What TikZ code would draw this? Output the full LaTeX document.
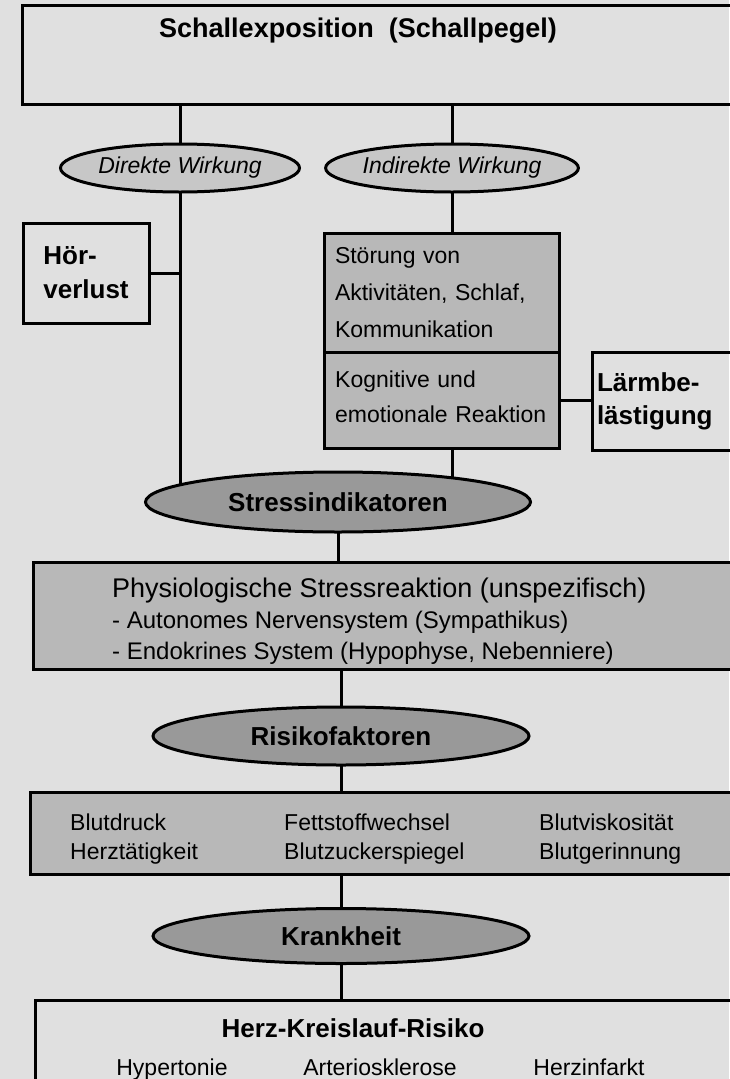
\documentclass[tikz,border=0pt]{standalone}
\usepackage{fontspec}
\setmainfont{Liberation Sans}
\usetikzlibrary{positioning,calc,shapes.geometric}
\definecolor{grundgrau}{gray}{0.88}
\definecolor{feldgrau}{gray}{0.72}
\definecolor{hellschraffur}{gray}{0.78}
\definecolor{dunkelschraffur}{gray}{0.60}
\pgfdeclarelayer{hintergrund}
\pgfdeclarelayer{linien}
\pgfsetlayers{hintergrund,linien,main}

\begin{document}
\begin{tikzpicture}[
  x=1pt,y=-1pt,
  font=\fontsize{23}{29}\selectfont,
  kasten/.style={draw=black,line width=3pt,inner sep=0pt,outer sep=0pt},
  grauKasten/.style={kasten,fill=feldgrau},
  fett/.style={font=\fontsize{26}{34}\selectfont\bfseries},
  liste/.style={anchor=west,align=left,inner xsep=0pt},
  wirkung/.style={ellipse,draw=black,line width=3pt,fill=hellschraffur,inner sep=0pt,
    outer sep=0pt,minimum height=48pt,font=\fontsize{23}{27}\selectfont\itshape},
  stufe/.style={ellipse,draw=black,line width=3pt,fill=dunkelschraffur,inner sep=0pt,
    outer sep=0pt,minimum width=380pt,fett},
  verbindung/.style={black,line width=3pt}
]
\useasboundingbox (0,0) rectangle (729,1079);
\begin{pgfonlayer}{hintergrund}
  \fill[grundgrau] (0,0) rectangle (729,1079);
\end{pgfonlayer}

% Quelle
\node[kasten,minimum width=718pt,minimum height=99pt] (schall) at (381,54.5) {};
\node[fett,font=\fontsize{27}{34}\selectfont\bfseries] (schalltitel) at (358,31)
  {Schallexposition\ \ (Schallpegel)};

\node[wirkung,minimum width=239pt] (direkt) at (180,168) {Direkte Wirkung};
\node[wirkung,minimum width=241pt] (indirekt) at (452,168) {Indirekte Wirkung};

% linker und rechter Zweig
\node[kasten,fett,align=left,minimum width=126pt,minimum height=100pt] (hoer) at (86,273)
  {Hör-\\verlust};
\node[grauKasten,anchor=north west,align=left,text width=213pt,inner xsep=11pt,
  minimum height=119pt,font=\fontsize{23}{37}\selectfont] (stoerung) at (324,233)
  {Störung von\\Aktivitäten, Schlaf,\\Kommunikation};
\node[grauKasten,anchor=north west,minimum width=235pt,minimum height=96pt] (kognitiv)
  at (stoerung.south west) {};
\node[anchor=base west,align=left,text width=213pt,inner xsep=0pt,
  font=\fontsize{23}{35}\selectfont] (kognitivtext) at (335,387)
  {Kognitive und\\emotionale Reaktion};
\node[kasten,fett,anchor=west,align=left,text width=140pt,inner xsep=5pt,
  minimum height=98pt,font=\fontsize{26}{33}\selectfont\bfseries] (laerm) at (592,401)
  {Lärmbe-\\lästigung};

\node[stufe,minimum width=385pt,minimum height=60pt] (stress) at (338,502) {Stressindikatoren};

\node[grauKasten,anchor=north west,minimum width=707pt,minimum height=107pt] (physio)
  at (33,562) {};
\node[liste,font=\fontsize{24}{31}\selectfont] (physiotext) at (112,621)
  {{\fontsize{27}{31}\selectfont Physiologische Stressreaktion (unspezifisch)}\\
   - Autonomes Nervensystem (Sympathikus)\\
   - Endokrines System (Hypophyse, Nebenniere)};

\node[stufe,minimum width=376pt,minimum height=58pt] (risiko) at (341,736) {Risikofaktoren};

\node[grauKasten,anchor=north west,minimum width=710pt,minimum height=82pt] (blut) at (30,792) {};
\node[liste] (blutA) at (70,839) {Blutdruck\\Herztätigkeit};
\node[liste] (blutB) at (284,839) {Fettstoffwechsel\\Blutzuckerspiegel};
\node[liste] (blutC) at (539,839) {Blutviskosität\\Blutgerinnung};

\node[stufe,minimum width=376pt,minimum height=55pt] (krank) at (341,936) {Krankheit};

\node[kasten,anchor=north west,minimum width=705pt,minimum height=100pt] (herz) at (35,1000) {};
\node[fett] (herztitel) at (353,1028) {Herz-Kreislauf-Risiko};
\node[anchor=base] (hyper) at (172,1075) {Hypertonie};
\node[anchor=base] (arterio) at (380,1075) {Arteriosklerose};
\node[anchor=base] (infarkt) at (589,1075) {Herzinfarkt};

% Verbindungen unter den Knoten
\begin{pgfonlayer}{linien}
  \draw[verbindung] (direkt.north) -- (direkt.north |- schall.south);
  \draw[verbindung] (indirekt.north) -- (indirekt.north |- schall.south);
  \draw[verbindung] (direkt.south) -- (direkt.south |- stress.center);
  \draw[verbindung] (hoer.east) -- (hoer.east -| direkt.south);
  \draw[verbindung] (indirekt.south) -- (indirekt.south |- stoerung.north);
  \draw[verbindung] (indirekt.south |- kognitiv.south) -- (indirekt.south |- stress.center);
  \draw[verbindung] (kognitiv.east) -- (kognitiv.east -| laerm.west);
  \draw[verbindung] (stress.south) -- (stress.south |- physio.north);
  \draw[verbindung] (risiko.north) -- (risiko.north |- physio.south);
  \draw[verbindung] (risiko.south) -- (risiko.south |- blut.north);
  \draw[verbindung] (krank.north) -- (krank.north |- blut.south);
  \draw[verbindung] (krank.south) -- (krank.south |- herz.north);
\end{pgfonlayer}
\end{tikzpicture}
\end{document}
